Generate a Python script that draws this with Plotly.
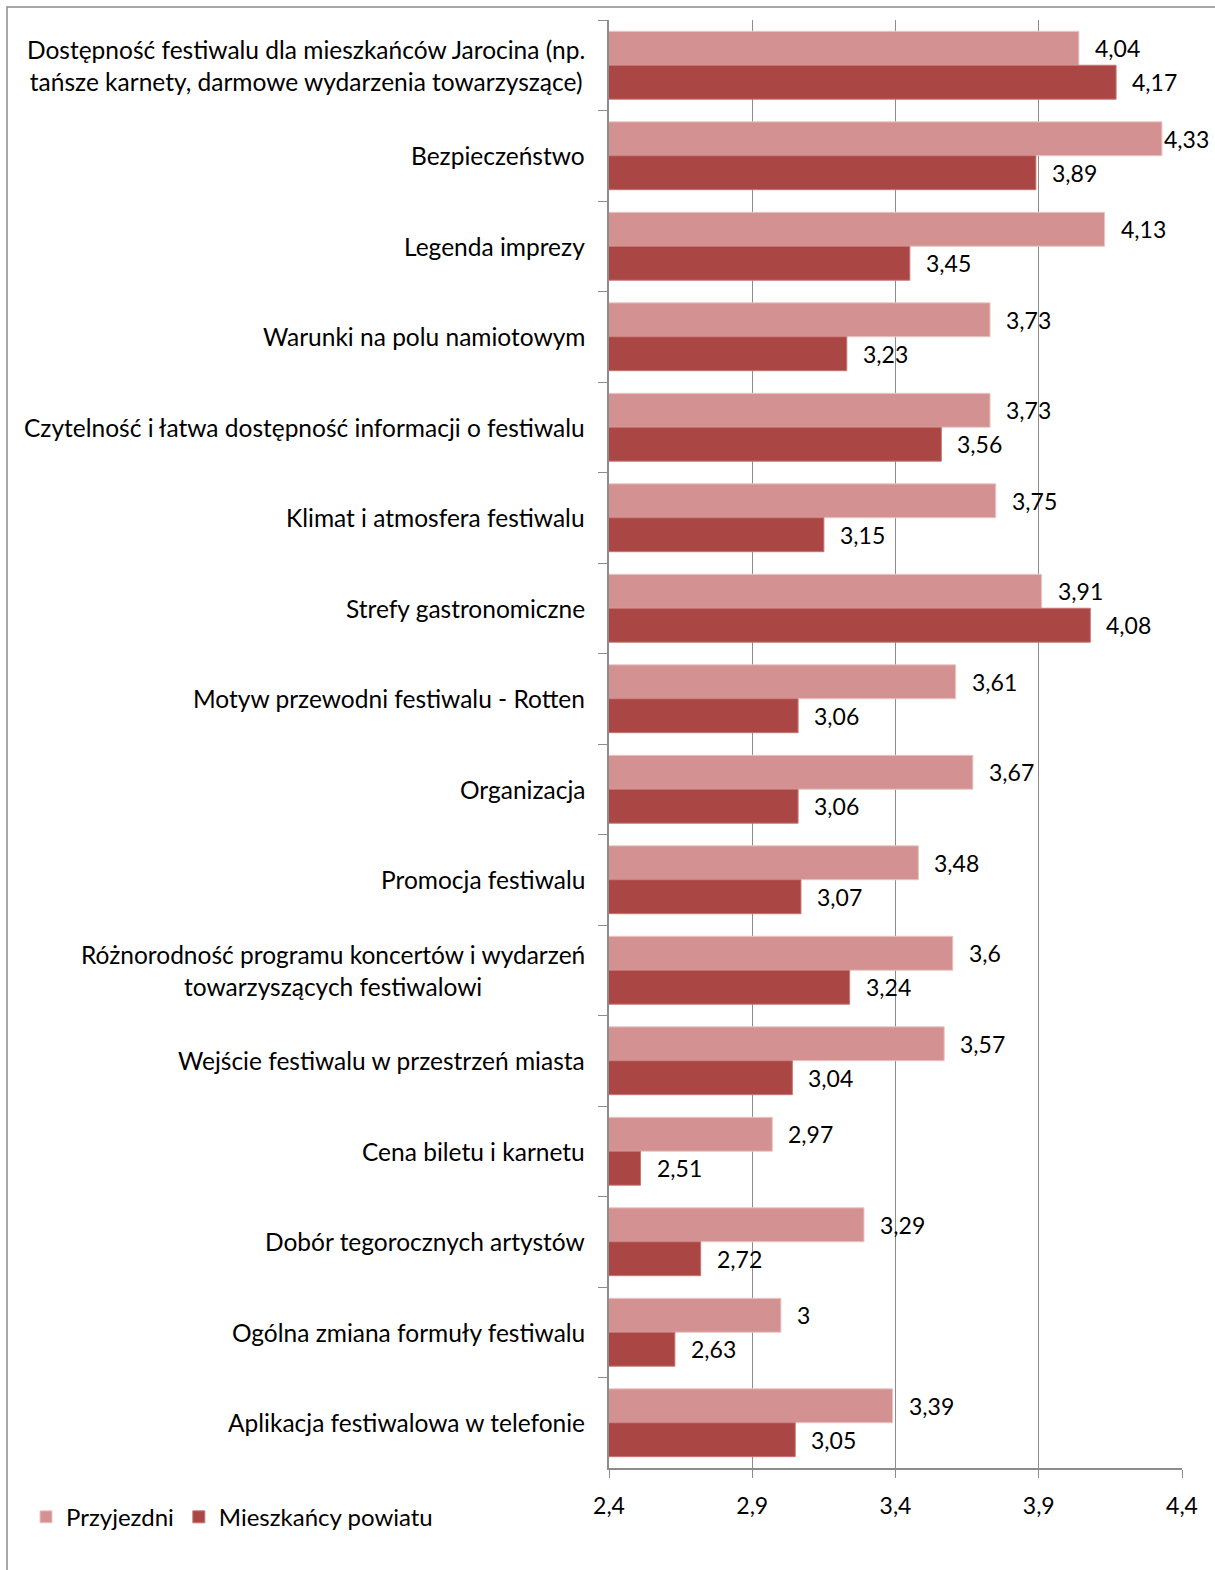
import plotly.graph_objects as go

categories = [
    "Dostępność festiwalu dla mieszkańców Jarocina (np.<br>tańsze karnety, darmowe wydarzenia towarzyszące)",
    "Bezpieczeństwo",
    "Legenda imprezy",
    "Warunki na polu namiotowym",
    "Czytelność i łatwa dostępność informacji o festiwalu",
    "Klimat i atmosfera festiwalu",
    "Strefy gastronomiczne",
    "Motyw przewodni festiwalu - Rotten",
    "Organizacja",
    "Promocja festiwalu",
    "Różnorodność programu koncertów i wydarzeń<br>towarzyszących festiwalowi",
    "Wejście festiwalu w przestrzeń miasta",
    "Cena biletu i karnetu",
    "Dobór tegorocznych artystów",
    "Ogólna zmiana formuły festiwalu",
    "Aplikacja festiwalowa w telefonie",
]
przyjezdni = [4.04, 4.33, 4.13, 3.73, 3.73, 3.75, 3.91, 3.61, 3.67, 3.48, 3.6, 3.57, 2.97, 3.29, 3.0, 3.39]
mieszkancy = [4.17, 3.89, 3.45, 3.23, 3.56, 3.15, 4.08, 3.06, 3.06, 3.07, 3.24, 3.04, 2.51, 2.72, 2.63, 3.05]
series_names = ["Przyjezdni", "Mieszkańcy powiatu"]
x_ticks = [2.4, 2.9, 3.4, 3.9, 4.4]

FONT = "Lato"
FS_CAT = 24.5
FS_VAL = 23
c_light = "#D39291"
c_dark = "#AA4644"

X_MIN, X_MAX = 2.4, 4.4
PLOT_L, PLOT_R = 609, 1182
PX_PER_UNIT = (PLOT_R - PLOT_L) / (X_MAX - X_MIN)


def fmt(v):
    return f"{v:g}".replace(".", ",")


def label_shift(v):
    # keep label inside the chart frame (as the original does for the longest bar)
    end_px = PLOT_L + (v - X_MIN) * PX_PER_UNIT
    return min(14, 1208 - 46 - end_px)


fig = go.Figure()
fig.add_trace(go.Bar(y=categories, x=przyjezdni, orientation="h", name=series_names[0],
                     marker=dict(color=c_light, line=dict(color="#E9C6C5", width=1))))
fig.add_trace(go.Bar(y=categories, x=mieszkancy, orientation="h", name=series_names[1],
                     marker=dict(color=c_dark, line=dict(color="#C77774", width=1))))

ann = []
for cat, a, b in zip(categories, przyjezdni, mieszkancy):
    ann.append(dict(x=a, y=cat, xref="x", yref="y", text=fmt(a), showarrow=False,
                    xanchor="left", yanchor="middle", xshift=label_shift(a), yshift=17,
                    font=dict(family=FONT, size=FS_VAL, color="#000")))
    ann.append(dict(x=b, y=cat, xref="x", yref="y", text=fmt(b), showarrow=False,
                    xanchor="left", yanchor="middle", xshift=label_shift(b), yshift=-17,
                    font=dict(family=FONT, size=FS_VAL, color="#000")))
    ann.append(dict(x=0, y=cat, xref="paper", yref="y", text=cat, showarrow=False,
                    xanchor="right", yanchor="middle", xshift=-22, align="center",
                    font=dict(family=FONT, size=FS_CAT, color="#000")))

fig.update_layout(
    width=1215, height=1570,
    margin=dict(l=PLOT_L, r=1215 - PLOT_R, t=20, b=102),
    paper_bgcolor="white", plot_bgcolor="white",
    barmode="group", bargap=0.25, bargroupgap=0,
    separators=", ",
    font=dict(family=FONT, size=FS_CAT, color="#000"),
    annotations=ann,
    showlegend=True,
    legend=dict(orientation="h", x=(26 - 609) / 573, xanchor="left", y=-0.034, yanchor="middle",
                font=dict(family=FONT, size=24), traceorder="normal",
                itemwidth=30, bgcolor="rgba(0,0,0,0)"),
    shapes=[dict(type="rect", xref="paper", yref="paper",
                 x0=(7 - 609) / 573, x1=(1230 - 609) / 573,
                 y0=-(1590 - 1468) / 1448, y1=1 + 13 / 1448,
                 line=dict(color="#8A8A8A", width=1.5), layer="below")],
)
fig.update_xaxes(range=[X_MIN, X_MAX], tickvals=x_ticks, ticktext=[fmt(v) for v in x_ticks],
                 showgrid=True, gridcolor="#8C8C8C", gridwidth=1.3,
                 showline=True, linecolor="#8C8C8C", linewidth=1.5,
                 ticks="outside", ticklen=8, tickcolor="#8C8C8C", tickwidth=1.3,
                 ticklabelstandoff=9,
                 zeroline=False, tickfont=dict(family=FONT, size=FS_VAL))
fig.update_yaxes(autorange="reversed", showticklabels=False, showgrid=False,
                 showline=True, linecolor="#8C8C8C", linewidth=1.5,
                 ticks="outside", ticklen=9, tickcolor="#8C8C8C", tickwidth=1.3,
                 tickson="boundaries", zeroline=False)

fig.write_html("out.html", config={"displayModeBar": False},
               post_script="document.body.style.margin='0px';document.body.style.overflow='hidden';")
